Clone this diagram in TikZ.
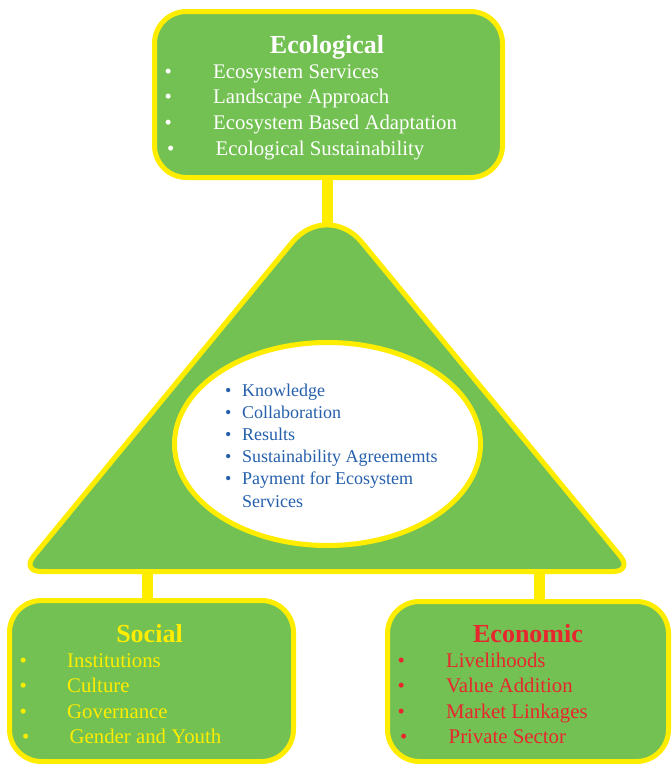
\documentclass[tikz,border=0pt]{standalone}
\usepackage{fontspec}
\setmainfont{Liberation Serif}
\usepackage{tikz}
\usetikzlibrary{shapes.geometric}
\definecolor{leaf}{RGB}{115,193,83}
\definecolor{sun}{RGB}{255,237,0}
\definecolor{ink}{RGB}{38,96,172}
\definecolor{brick}{RGB}{232,38,46}
\newcommand{\dotitem}[2]{\makebox[#1][l]{\textbullet}#2}
\tikzset{
	pillar/.style={draw=sun, fill=leaf, line width=5pt, rounded corners=32pt, inner sep=0pt},
	link/.style={draw=sun, line width=11pt},
	head/.style={font=\fontsize{26}{30}\selectfont\bfseries, anchor=base, inner sep=0pt},
	entry/.style={font=\fontsize{20.8}{25}\selectfont, anchor=base west, inner sep=0pt},
	core/.style={font=\fontsize{18}{22}\selectfont, text=ink, anchor=base west, inner sep=0pt}
}

\begin{document}
\begin{tikzpicture}[x=1pt,y=-1pt]
			\useasboundingbox (0,0) rectangle (672,764);
			% triangle
			\coordinate (apex) at (327,200);
			\coordinate (peak) at (327,225.5);
			\coordinate (bl) at (21,571.5);
			\coordinate (br) at (633,571.5);
			\coordinate (basemid) at (327,571.5);
			\draw[draw=sun, fill=leaf, line width=5pt]
				(basemid) [rounded corners=20pt] -- (bl) [rounded corners=55pt] -- (apex) [rounded corners=20pt] -- (br) -- cycle;
			\node[ellipse, draw=sun, fill=white, line width=5pt, minimum width=306pt, minimum height=203pt, inner sep=0pt] (hub) at (327.5,444) {};
			% the three boxes
			\node[pillar, minimum width=348pt, minimum height=166pt] (eco) at (328.5,94.5) {};
			\node[pillar, minimum width=284pt, minimum height=161pt] (soc) at (151.5,681) {};
			\node[pillar, minimum width=281pt, minimum height=160pt] (econ) at (528,681.5) {};
			% connectors
			\coordinate (lk) at (147,571.5);
			\coordinate (rk) at (539,571.5);
			\draw[link] (peak |- eco.south) -- (peak);
			\draw[link] (lk) -- (lk |- soc.north);
			\draw[link] (rk) -- (rk |- econ.north);
			% texts
			\node[head, text=white] (eco-t) at (327,53) {Ecological};
			\foreach \dx/\txt [count=\i] in {0/Ecosystem Services, 0/Landscape Approach, 0/Ecosystem Based Adaptation, 2.5/Ecological Sustainability}
				\node[entry, text=white] (eco-\i) at ({164.5+\dx},{78+25.7*(\i-1)}) {\dotitem{48.5pt}{\txt}};
			\node[head, text=sun] (soc-t) at (149.5,642) {Social};
			\foreach \dx/\txt [count=\i] in {0/Institutions, 0/Culture, 0/Governance, 2.5/Gender and Youth}
				\node[entry, text=sun] (soc-\i) at ({19.5+\dx},{667+25.6*(\i-1)}) {\dotitem{47.5pt}{\txt}};
			\node[head, text=brick] (econ-t) at (528,642) {Economic};
			\foreach \dx/\txt [count=\i] in {0/Livelihoods, 0/Value Addition, 0/Market Linkages, 2.5/Private Sector}
				\node[entry, text=brick] (econ-\i) at ({397.5+\dx},{667+25.6*(\i-1)}) {\dotitem{48.5pt}{\txt}};
			\foreach \txt [count=\i] in {Knowledge, Collaboration, Results, Sustainability Agreememts, Payment for Ecosystem}
				\node[core] (hub-\i) at (225,{396+22.2*(\i-1)}) {\dotitem{17pt}{\txt}};
			\node[core] (hub-6) at (242,507) {Services};
		\end{tikzpicture}
\end{document}
